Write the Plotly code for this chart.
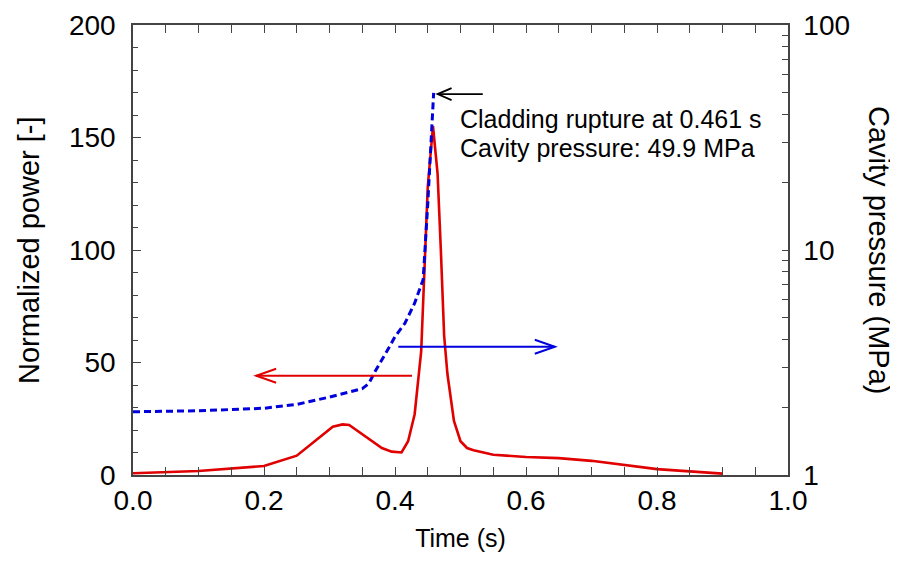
import plotly.graph_objects as go

# power trace (left axis)
time_power = [0.0, 0.1, 0.2, 0.25, 0.305, 0.32, 0.33, 0.35, 0.38, 0.395, 0.41, 0.42, 0.43,
              0.44, 0.45, 0.458, 0.465, 0.47, 0.475, 0.48, 0.49, 0.50, 0.51, 0.52, 0.55,
              0.6, 0.65, 0.7, 0.8, 0.9]
norm_power = [0.8, 1.8, 4.0, 8.6, 21.5, 22.5, 22.2, 18.0, 12.0, 10.4, 10.0, 15.0, 27.0,
              55.0, 128.0, 155.0, 134.0, 100.0, 62.0, 45.0, 24.0, 15.0, 12.0, 11.0, 9.0,
              8.0, 7.5, 6.3, 2.6, 0.6]

# cavity pressure trace (right axis, log)
time_press = [0.0, 0.1, 0.2, 0.25, 0.3, 0.35, 0.36, 0.37, 0.39, 0.40, 0.415, 0.43, 0.443,
              0.45, 0.459]
cavity_press = [1.91, 1.93, 1.98, 2.06, 2.22, 2.42, 2.55, 2.9, 3.65, 4.12, 4.72, 5.8, 7.4,
                16.0, 49.9]

press_tickvals = [1, 2, 3, 4, 5, 6, 7, 8, 9, 10, 20, 30, 40, 50, 60, 70, 80, 90, 100]
press_ticktext = ["1"] + [""] * 8 + ["10"] + [""] * 8 + ["100"]

# page body has an 8px margin, so the figure is a bit smaller than the window
W, H = 890, 557
M = dict(l=125, r=110, t=17, b=90)
PW, PH = W - M["l"] - M["r"], H - M["t"] - M["b"]
XR, YR = (0.0, 1.0), (0.0, 200.0)
FONT = "Liberation Sans, Arial, sans-serif"
AX = "#444444"


def arrow(x0, y0, x1, y1, color, head_len=20, head_half=7, width=2):
    # horizontal arrow with an open chevron head, coords in data units of x / y
    dx = head_len * (XR[1] - XR[0]) / PW
    dy = head_half * (YR[1] - YR[0]) / PH
    s = 1 if x1 > x0 else -1
    return [
        dict(type="line", xref="x", yref="y", x0=x0, y0=y0, x1=x1, y1=y1,
             line=dict(color=color, width=width)),
        dict(type="path", xref="x", yref="y",
             path=f"M {x1 - s * dx} {y1 + dy} L {x1} {y1} L {x1 - s * dx} {y1 - dy}",
             line=dict(color=color, width=width)),
    ]


fig = go.Figure()
fig.add_trace(go.Scatter(x=time_power, y=norm_power, mode="lines",
                         line=dict(color="#e00000", width=2.6), yaxis="y"))
fig.add_trace(go.Scatter(x=time_press, y=cavity_press, mode="lines",
                         line=dict(color="#0000dd", width=3, dash="7px,4px"), yaxis="y2"))

shapes = []
shapes += arrow(0.426, 44.1, 0.188, 44.1, "#e00000")
shapes += arrow(0.405, 57.0, 0.644, 57.0, "#0000dd")
shapes += arrow(0.534, 169.3, 0.465, 169.3, "black", head_len=14, head_half=6, width=1.8)

tick_font = dict(family=FONT, size=28, color="black")
vtitle_font = dict(family=FONT, size=29, color="black")


def side_title(text, px, angle):
    # vertical axis title placed by pixel column (figure coords)
    return dict(text=text, x=(px - M["l"]) / PW, y=0.5, xref="paper", yref="paper",
                xanchor="center", yanchor="middle", textangle=angle,
                showarrow=False, font=vtitle_font)


fig.update_layout(
    template="none",
    width=W, height=H, margin=M,
    paper_bgcolor="white", plot_bgcolor="white",
    showlegend=False,
    font=dict(family=FONT, color="black"),
    shapes=shapes,
    xaxis=dict(
        range=list(XR), dtick=0.2, tickformat=".1f", automargin=False,
        ticks="inside", ticklen=8, tickwidth=1.3, tickcolor=AX,
        minor=dict(dtick=0.05, ticks="inside", ticklen=5, tickcolor=AX, showgrid=False),
        showline=True, linecolor=AX, linewidth=1.5, mirror="allticks",
        showgrid=False, zeroline=False, tickfont=tick_font,
        title=dict(text="Time (s)", font=dict(family=FONT, size=25, color="black"), standoff=14),
    ),
    yaxis=dict(
        range=list(YR), dtick=50, automargin=False,
        ticks="inside", ticklen=8, tickwidth=1.3, tickcolor=AX,
        minor=dict(dtick=10, ticks="inside", ticklen=5, tickcolor=AX, showgrid=False),
        showline=True, linecolor=AX, linewidth=1.5,
        showgrid=False, zeroline=False, tickfont=tick_font, ticklabelstandoff=10,
    ),
    yaxis2=dict(
        type="log", range=[0, 2], overlaying="y", side="right", automargin=False,
        tickmode="array", tickvals=press_tickvals, ticktext=press_ticktext,
        ticks="inside", ticklen=6, tickwidth=1.3, tickcolor=AX,
        showline=True, linecolor=AX, linewidth=1.5,
        showgrid=False, zeroline=False, tickfont=tick_font, ticklabelstandoff=8,
    ),
    annotations=[
        dict(text="Cladding rupture at 0.461 s", x=0.496, y=158.4, xref="x", yref="y",
             xanchor="left", yanchor="middle", showarrow=False,
             font=dict(family=FONT, size=25, color="black")),
        dict(text="Cavity pressure: 49.9 MPa", x=0.496, y=145.3, xref="x", yref="y",
             xanchor="left", yanchor="middle", showarrow=False,
             font=dict(family=FONT, size=25, color="black")),
        side_title("Normalized power [-]", 21, -90),
        side_title("Cavity pressure (MPa)", 871, 90),
    ],
)

fig.write_html("out.html")
